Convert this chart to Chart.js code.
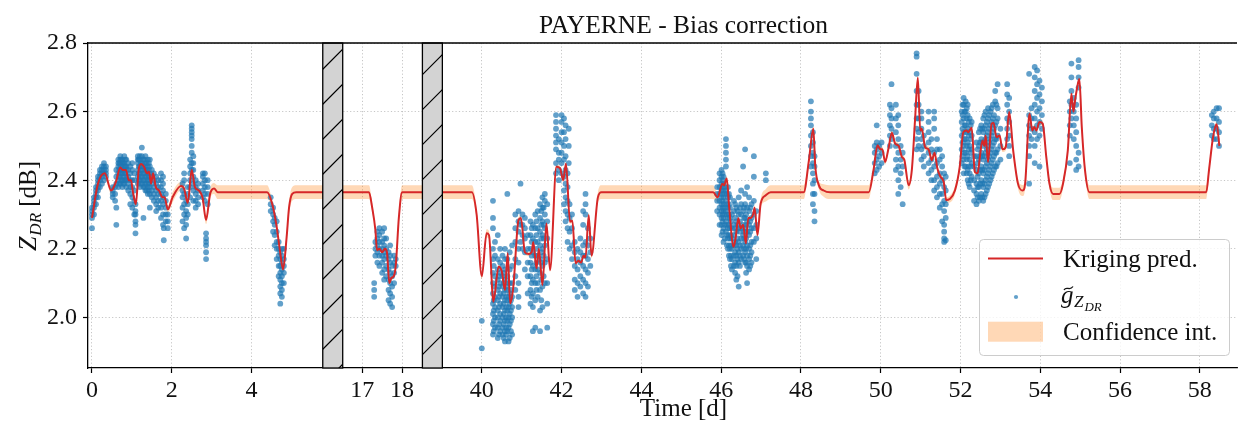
<!DOCTYPE html>
<html>
<head>
<meta charset="utf-8">
<script src="https://cdn.jsdelivr.net/npm/chart.js@4.4.1/dist/chart.umd.min.js"></script>
<style>
  html, body { margin: 0; padding: 0; background: #fff; }
  #wrap { width: 1241px; height: 423px; }
</style>
</head>
<body>
<div id="wrap"><canvas id="zdrChart" width="1241" height="423"></canvas></div>
<script>
// broken time axis: visible day ranges, hatched gap between them
const breaks = [[-0.1, 5.785], [16.511, 18.509], [39.011, 58.931]];
const gapWidth = 0.5;

const tickDays = [0, 2, 4, 17, 18, 40, 42, 44, 46, 48, 50, 52, 54, 56, 58];
const yTicks = [2.0, 2.2, 2.4, 2.6, 2.8];

// kriging prediction: [day, value, half width of confidence interval]
const kriging = [
  [0.00, 2.29, .01], [0.15, 2.39, .008], [0.32, 2.42, .008], [0.48, 2.37, .01],
  [0.60, 2.395, .008], [0.71, 2.437, .006], [0.77, 2.43, .006], [0.85, 2.43, .006],
  [0.92, 2.40, .006], [0.98, 2.40, .006], [1.02, 2.37, .006], [1.10, 2.33, .008],
  [1.17, 2.43, .006], [1.23, 2.447, .006], [1.30, 2.44, .006], [1.38, 2.42, .006],
  [1.43, 2.425, .006], [1.48, 2.39, .006], [1.53, 2.42, .006], [1.60, 2.38, .008],
  [1.68, 2.37, .008], [1.77, 2.35, .008], [1.82, 2.35, .008], [1.90, 2.315, .01],
  [2.02, 2.35, .015], [2.23, 2.383, .012], [2.31, 2.375, .01], [2.40, 2.334, .01],
  [2.50, 2.43, .008], [2.58, 2.38, .008], [2.68, 2.37, .008], [2.77, 2.35, .01],
  [2.86, 2.284, .012], [2.96, 2.36, .015], [3.06, 2.376, .016], [3.15, 2.365, .02],
  [4.39, 2.365, .02], [4.52, 2.33, .01], [4.63, 2.264, .008], [4.71, 2.196, .008],
  [4.79, 2.14, .01], [4.88, 2.235, .015], [4.94, 2.32, .018], [5.02, 2.36, .02],
  [5.12, 2.365, .02], [5.785, 2.365, .02],
  [16.511, 2.365, .02], [17.17, 2.365, .02], [17.25, 2.32, .012], [17.33, 2.255, .008],
  [17.37, 2.196, .006], [17.43, 2.20, .006], [17.50, 2.19, .006], [17.57, 2.20, .006],
  [17.62, 2.19, .006], [17.68, 2.10, .006], [17.73, 2.115, .006], [17.79, 2.12, .006],
  [17.84, 2.15, .008], [17.92, 2.293, .015], [18.00, 2.365, .02], [18.509, 2.365, .02],
  [39.011, 2.365, .02], [39.75, 2.365, .02], [39.87, 2.30, .015], [40.00, 2.12, .008],
  [40.12, 2.245, .012], [40.18, 2.24, .012], [40.29, 2.046, .008], [40.42, 2.148, .006],
  [40.50, 2.135, .006], [40.58, 2.08, .006], [40.65, 2.187, .006], [40.71, 2.041, .006],
  [40.79, 2.09, .006], [40.92, 2.284, .008], [40.98, 2.29, .008], [41.08, 2.19, .006],
  [41.17, 2.185, .006], [41.25, 2.19, .006], [41.29, 2.22, .006], [41.37, 2.143, .006],
  [41.43, 2.20, .006], [41.52, 2.095, .006], [41.62, 2.274, .006], [41.71, 2.138, .006],
  [41.87, 2.439, .006], [41.96, 2.435, .006], [42.04, 2.40, .006], [42.11, 2.448, .006],
  [42.21, 2.279, .006], [42.27, 2.282, .006], [42.35, 2.158, .006], [42.42, 2.165, .006],
  [42.49, 2.16, .006], [42.55, 2.18, .006], [42.60, 2.175, .006], [42.68, 2.298, .006],
  [42.75, 2.18, .008], [42.91, 2.35, .015], [43.00, 2.365, .02], [45.80, 2.365, .02],
  [45.91, 2.35, .012], [46.03, 2.39, .006], [46.07, 2.385, .006], [46.14, 2.405, .006],
  [46.20, 2.322, .006], [46.31, 2.206, .006], [46.36, 2.23, .006], [46.43, 2.289, .006],
  [46.49, 2.26, .006], [46.55, 2.27, .006], [46.62, 2.216, .006], [46.68, 2.29, .006],
  [46.74, 2.29, .006], [46.80, 2.30, .006], [46.84, 2.32, .006], [46.91, 2.24, .008],
  [46.99, 2.332, .012], [47.12, 2.356, .018], [47.24, 2.365, .02], [48.07, 2.365, .02],
  [48.20, 2.458, .012], [48.31, 2.55, .008], [48.36, 2.44, .008], [48.45, 2.385, .012],
  [48.57, 2.37, .018], [48.73, 2.365, .02], [49.70, 2.365, .02], [49.82, 2.43, .012],
  [49.92, 2.502, .008], [49.99, 2.49, .008], [50.04, 2.49, .008], [50.11, 2.453, .008],
  [50.19, 2.49, .008], [50.28, 2.538, .008], [50.36, 2.507, .008], [50.45, 2.50, .008],
  [50.53, 2.468, .008], [50.59, 2.46, .008], [50.70, 2.385, .012], [50.78, 2.43, .01],
  [50.86, 2.575, .008], [50.93, 2.699, .008], [50.99, 2.545, .008], [51.03, 2.55, .008],
  [51.11, 2.497, .008], [51.20, 2.49, .008], [51.28, 2.458, .008], [51.35, 2.48, .008],
  [51.42, 2.434, .008], [51.50, 2.41, .008], [51.58, 2.395, .008], [51.64, 2.342, .008],
  [51.73, 2.345, .01], [51.86, 2.37, .012], [51.98, 2.439, .01], [52.07, 2.54, .008],
  [52.15, 2.545, .008], [52.19, 2.54, .008], [52.28, 2.553, .008], [52.36, 2.424, .008],
  [52.43, 2.42, .008], [52.48, 2.463, .008], [52.55, 2.516, .008], [52.60, 2.50, .008],
  [52.63, 2.53, .008], [52.69, 2.453, .008], [52.78, 2.565, .008], [52.83, 2.567, .008],
  [52.90, 2.526, .008], [52.98, 2.53, .008], [53.05, 2.49, .008], [53.13, 2.495, .01],
  [53.22, 2.599, .008], [53.32, 2.487, .01], [53.44, 2.39, .014], [53.56, 2.37, .016],
  [53.62, 2.39, .014], [53.73, 2.594, .008], [53.80, 2.545, .008], [53.85, 2.555, .008],
  [53.90, 2.545, .008], [53.98, 2.57, .008], [54.06, 2.565, .008], [54.15, 2.468, .01],
  [54.23, 2.39, .014], [54.32, 2.36, .018], [54.48, 2.36, .018], [54.57, 2.39, .014],
  [54.69, 2.487, .01], [54.78, 2.652, .008], [54.83, 2.60, .008], [54.88, 2.64, .008],
  [54.94, 2.68, .008], [54.98, 2.695, .008], [55.04, 2.555, .008], [55.12, 2.43, .014],
  [55.23, 2.365, .02], [58.16, 2.365, .02], [58.23, 2.43, .014], [58.33, 2.525, .008],
  [58.42, 2.563, .008], [58.49, 2.50, .008]
];

// observed ZDR bias estimates: [day, values at that time]
const observations = [
  [0.00, [2.26, 2.29, 2.30, 2.31, 2.32]],
  [0.05, [2.30, 2.32, 2.33, 2.35, 2.34]],
  [0.10, [2.33, 2.35, 2.36, 2.38, 2.37]],
  [0.15, [2.35, 2.37, 2.39, 2.40, 2.41, 2.38]],
  [0.20, [2.38, 2.40, 2.41, 2.42, 2.43]],
  [0.25, [2.39, 2.41, 2.42, 2.44, 2.43]],
  [0.30, [2.40, 2.42, 2.43, 2.44, 2.45]],
  [0.35, [2.41, 2.43, 2.44, 2.42]],
  [0.52, [2.35, 2.37, 2.38, 2.36]],
  [0.58, [2.34, 2.36, 2.38]],
  [0.61, [2.27, 2.32, 2.39, 2.41, 2.43]],
  [0.66, [2.38, 2.40, 2.42, 2.44, 2.45, 2.46]],
  [0.685, [2.39, 2.41, 2.43, 2.45]],
  [0.71, [2.39, 2.41, 2.43, 2.44, 2.45, 2.46, 2.47]],
  [0.735, [2.40, 2.42, 2.44, 2.46]],
  [0.76, [2.38, 2.40, 2.42, 2.43, 2.45, 2.46]],
  [0.785, [2.39, 2.41, 2.43, 2.45]],
  [0.81, [2.39, 2.40, 2.42, 2.44, 2.45, 2.47]],
  [0.835, [2.40, 2.42, 2.44, 2.46]],
  [0.86, [2.38, 2.40, 2.41, 2.43, 2.44, 2.46]],
  [0.91, [2.37, 2.39, 2.41, 2.43, 2.45]],
  [0.96, [2.33, 2.36, 2.38, 2.40, 2.42, 2.44]],
  [1.01, [2.32, 2.35, 2.38, 2.40, 2.43, 2.45]],
  [1.06, [2.30, 2.34, 2.37, 2.40, 2.42]],
  [1.09, [2.245, 2.27, 2.28, 2.30, 2.31, 2.33]],
  [1.15, [2.39, 2.41, 2.43, 2.45, 2.46, 2.47]],
  [1.175, [2.40, 2.42, 2.44, 2.46]],
  [1.20, [2.38, 2.40, 2.42, 2.44, 2.46, 2.47]],
  [1.225, [2.39, 2.41, 2.43, 2.45]],
  [1.25, [2.39, 2.41, 2.43, 2.45, 2.47, 2.495]],
  [1.29, [2.29, 2.38, 2.40, 2.42, 2.44, 2.46]],
  [1.315, [2.38, 2.40, 2.42, 2.44, 2.46]],
  [1.34, [2.37, 2.39, 2.41, 2.43, 2.45, 2.47]],
  [1.37, [2.37, 2.39, 2.41, 2.43, 2.45]],
  [1.40, [2.36, 2.38, 2.40, 2.42, 2.44, 2.46]],
  [1.425, [2.37, 2.39, 2.41, 2.43, 2.45]],
  [1.45, [2.32, 2.36, 2.38, 2.40, 2.42, 2.44, 2.46]],
  [1.50, [2.35, 2.37, 2.39, 2.41, 2.43]],
  [1.55, [2.34, 2.36, 2.38, 2.40, 2.42]],
  [1.61, [2.31, 2.33, 2.35, 2.37, 2.39, 2.41]],
  [1.66, [2.32, 2.34, 2.36, 2.38, 2.40]],
  [1.73, [2.29, 2.32, 2.34, 2.36, 2.38, 2.40, 2.42]],
  [1.78, [2.27, 2.30, 2.33, 2.35, 2.37, 2.39, 2.41]],
  [1.80, [2.225, 2.26]],
  [1.85, [2.28, 2.30, 2.32, 2.34, 2.36]],
  [1.90, [2.26, 2.28, 2.30]],
  [2.27, [2.28, 2.32, 2.35, 2.37, 2.39]],
  [2.31, [2.26, 2.30, 2.33, 2.36, 2.40, 2.42]],
  [2.36, [2.23, 2.27, 2.29, 2.31, 2.34]],
  [2.40, [2.30, 2.33, 2.36, 2.38]],
  [2.46, [2.35, 2.38, 2.40, 2.42, 2.44, 2.46]],
  [2.50, [2.48, 2.50, 2.52, 2.53, 2.54, 2.55, 2.56, 2.43, 2.45]],
  [2.54, [2.34, 2.37, 2.39, 2.41, 2.43, 2.45, 2.47]],
  [2.60, [2.32, 2.34, 2.36, 2.38, 2.40]],
  [2.66, [2.33, 2.35, 2.37, 2.39]],
  [2.78, [2.35, 2.37, 2.39, 2.41, 2.42]],
  [2.83, [2.34, 2.36, 2.38, 2.40, 2.42]],
  [2.86, [2.17, 2.19, 2.21, 2.22, 2.23, 2.245]],
  [2.90, [2.33, 2.36, 2.38, 2.40]],
  [4.48, [2.31, 2.33, 2.35]],
  [4.54, [2.25, 2.28, 2.30, 2.32]],
  [4.58, [2.21, 2.24, 2.27, 2.29]],
  [4.63, [2.17, 2.20, 2.22, 2.25, 2.28]],
  [4.68, [2.12, 2.15, 2.18, 2.20, 2.22]],
  [4.72, [2.04, 2.07, 2.09, 2.11, 2.13, 2.15, 2.17, 2.19]],
  [4.76, [2.06, 2.08, 2.10, 2.12, 2.14, 2.16, 2.18, 2.20]],
  [4.81, [2.10, 2.13, 2.15, 2.17, 2.20]],
  [17.30, [2.06, 2.08, 2.10]],
  [17.33, [2.18, 2.20, 2.22]],
  [17.38, [2.16, 2.19, 2.21, 2.23, 2.25]],
  [17.43, [2.15, 2.18, 2.20, 2.22, 2.24, 2.26]],
  [17.50, [2.13, 2.16, 2.18, 2.20, 2.22, 2.25]],
  [17.55, [2.11, 2.14, 2.17, 2.19, 2.21, 2.23, 2.26]],
  [17.60, [2.12, 2.15, 2.18, 2.20, 2.23]],
  [17.66, [2.05, 2.08, 2.11, 2.14, 2.17, 2.19]],
  [17.70, [2.04, 2.07, 2.10, 2.13, 2.16, 2.18, 2.21]],
  [17.75, [2.03, 2.06, 2.09, 2.12, 2.15]],
  [17.80, [2.10, 2.13, 2.16, 2.18]],
  [17.84, [2.15, 2.17]],
  [40.00, [1.91, 1.99]],
  [40.28, [1.95, 1.98, 2.01, 2.04, 2.07, 2.10, 2.13, 2.17, 2.20, 2.26, 2.29, 2.34]],
  [40.30, [1.96, 1.99, 2.02, 2.05, 2.09, 2.15]],
  [40.33, [1.97, 2.00, 2.03, 2.06, 2.12, 2.18, 2.22]],
  [40.40, [1.94, 1.97, 2.00, 2.02, 2.05, 2.08, 2.11, 2.14, 2.17, 2.24]],
  [40.43, [1.95, 1.98, 2.03, 2.06, 2.09, 2.12]],
  [40.46, [1.96, 1.99, 2.01, 2.04, 2.07, 2.10, 2.13, 2.16, 2.20]],
  [40.52, [1.95, 1.97, 2.00, 2.03, 2.06, 2.09, 2.12, 2.15, 2.18]],
  [40.55, [1.94, 1.98, 2.01, 2.04, 2.07, 2.10, 2.13]],
  [40.58, [1.93, 1.96, 1.99, 2.02, 2.05, 2.08, 2.11, 2.14, 2.17, 2.20]],
  [40.61, [1.95, 1.97, 2.00, 2.03, 2.06, 2.09]],
  [40.64, [1.96, 1.99, 2.02, 2.05, 2.08, 2.12, 2.17, 2.36]],
  [40.67, [1.93, 1.97, 2.00, 2.03, 2.06, 2.10]],
  [40.70, [1.94, 1.98, 2.01, 2.04, 2.07, 2.10, 2.14, 2.19]],
  [40.73, [1.96, 1.99, 2.02, 2.05, 2.08]],
  [40.76, [1.95, 2.00, 2.03, 2.06, 2.10, 2.15, 2.21]],
  [40.84, [2.08, 2.12, 2.17, 2.22, 2.26, 2.30]],
  [40.92, [2.03, 2.06, 2.10, 2.16, 2.20, 2.25, 2.28, 2.31]],
  [40.97, [2.39, 2.27, 2.22]],
  [41.02, [2.20, 2.24, 2.27, 2.30]],
  [41.08, [2.14, 2.19, 2.23, 2.26, 2.29]],
  [41.15, [2.07, 2.12, 2.16, 2.20, 2.24]],
  [41.22, [2.04, 2.08, 2.12, 2.16, 2.20, 2.24, 2.28]],
  [41.25, [2.06, 2.10, 2.14, 2.18, 2.22, 2.26]],
  [41.28, [1.96, 2.03, 2.07, 2.11, 2.15, 2.19, 2.23, 2.27]],
  [41.34, [1.97, 2.05, 2.10, 2.14, 2.18, 2.22, 2.26, 2.30]],
  [41.37, [2.08, 2.12, 2.16, 2.20, 2.24, 2.28]],
  [41.40, [2.06, 2.10, 2.14, 2.18, 2.22, 2.26, 2.31]],
  [41.46, [1.96, 2.02, 2.08, 2.13, 2.17, 2.21, 2.25, 2.29, 2.33]],
  [41.49, [2.05, 2.11, 2.16, 2.19, 2.23, 2.27, 2.31]],
  [41.52, [2.03, 2.09, 2.15, 2.20, 2.24, 2.28, 2.32, 2.35]],
  [41.55, [2.12, 2.18, 2.23, 2.27, 2.32]],
  [41.58, [2.10, 2.16, 2.21, 2.26, 2.30, 2.34, 2.36]],
  [41.64, [1.97, 2.04, 2.10, 2.17, 2.23, 2.28, 2.33]],
  [41.86, [2.49, 2.51, 2.53, 2.55, 2.57, 2.59, 2.45, 2.42]],
  [41.93, [2.40, 2.43, 2.46, 2.48, 2.52]],
  [42.00, [2.42, 2.45, 2.48, 2.51, 2.54, 2.57, 2.59]],
  [42.06, [2.33, 2.37, 2.41, 2.46, 2.50, 2.54, 2.58]],
  [42.10, [2.28, 2.31, 2.35, 2.39, 2.43, 2.47, 2.52, 2.56]],
  [42.15, [2.22, 2.26, 2.30, 2.34, 2.38, 2.42]],
  [42.18, [2.45, 2.50, 2.55]],
  [42.20, [2.20, 2.25, 2.29, 2.33]],
  [42.26, [2.17, 2.21, 2.26, 2.30]],
  [42.33, [2.08, 2.11, 2.15, 2.19, 2.22]],
  [42.40, [2.06, 2.10, 2.14, 2.17, 2.20]],
  [42.47, [2.09, 2.12, 2.16, 2.19, 2.23]],
  [42.54, [2.07, 2.11, 2.15, 2.18, 2.21, 2.27, 2.31]],
  [42.60, [2.06, 2.10, 2.14, 2.18, 2.22, 2.30, 2.33, 2.36]],
  [42.66, [2.09, 2.13, 2.17, 2.21, 2.26]],
  [42.72, [2.15, 2.19, 2.23]],
  [45.90, [2.31, 2.34, 2.36, 2.38]],
  [45.96, [2.27, 2.30, 2.32, 2.34, 2.36, 2.38, 2.40, 2.42]],
  [46.01, [2.24, 2.27, 2.29, 2.31, 2.33, 2.35, 2.37, 2.39, 2.41, 2.43]],
  [46.035, [2.25, 2.28, 2.30, 2.32, 2.34, 2.36, 2.38, 2.40, 2.42]],
  [46.06, [2.22, 2.26, 2.29, 2.31, 2.33, 2.35, 2.37, 2.39, 2.41]],
  [46.09, [2.23, 2.27, 2.30, 2.32, 2.36, 2.38]],
  [46.12, [2.44, 2.46, 2.48, 2.50, 2.52, 2.25, 2.28, 2.31, 2.34, 2.37]],
  [46.145, [2.21, 2.24, 2.27, 2.30, 2.33, 2.36]],
  [46.17, [2.20, 2.23, 2.26, 2.29, 2.32, 2.35, 2.38]],
  [46.195, [2.18, 2.21, 2.24, 2.27, 2.30, 2.33, 2.36]],
  [46.22, [2.17, 2.20, 2.23, 2.26, 2.29, 2.32, 2.35]],
  [46.245, [2.15, 2.18, 2.21, 2.24, 2.28]],
  [46.27, [2.14, 2.17, 2.20, 2.23, 2.26, 2.30]],
  [46.32, [2.15, 2.18, 2.21, 2.24, 2.27, 2.31, 2.34]],
  [46.35, [2.13, 2.16, 2.19, 2.22, 2.26, 2.29, 2.33]],
  [46.38, [2.11, 2.15, 2.18, 2.21, 2.25, 2.28, 2.32]],
  [46.41, [2.12, 2.17, 2.20, 2.23, 2.27, 2.31]],
  [46.44, [2.09, 2.16, 2.19, 2.22, 2.26, 2.30, 2.35]],
  [46.47, [2.15, 2.18, 2.21, 2.25, 2.28, 2.32]],
  [46.50, [2.17, 2.20, 2.23, 2.26, 2.30, 2.33, 2.37]],
  [46.55, [2.18, 2.21, 2.24, 2.27, 2.31, 2.44]],
  [46.575, [2.17, 2.20, 2.23, 2.25, 2.29, 2.32]],
  [46.60, [2.49, 2.16, 2.19, 2.22, 2.26, 2.29, 2.33, 2.36]],
  [46.625, [2.13, 2.16, 2.20, 2.23, 2.27, 2.30]],
  [46.65, [2.10, 2.15, 2.18, 2.21, 2.25, 2.28, 2.32, 2.38]],
  [46.70, [2.14, 2.17, 2.20, 2.24, 2.27, 2.31, 2.35]],
  [46.73, [2.15, 2.18, 2.21, 2.25, 2.28, 2.32]],
  [46.76, [2.16, 2.19, 2.22, 2.26, 2.29, 2.33]],
  [46.82, [2.22, 2.26, 2.30, 2.34, 2.41, 2.47]],
  [46.88, [2.17, 2.23, 2.27, 2.31]],
  [47.12, [2.40, 2.42]],
  [48.25, [2.44, 2.47, 2.50, 2.53, 2.56, 2.58, 2.60, 2.63]],
  [48.30, [2.33, 2.36, 2.39, 2.42, 2.45, 2.48, 2.51, 2.54]],
  [48.34, [2.28, 2.31, 2.36, 2.40, 2.44, 2.47]],
  [49.85, [2.42, 2.45, 2.48, 2.50]],
  [49.90, [2.43, 2.46, 2.49, 2.51, 2.56]],
  [49.96, [2.44, 2.47, 2.50]],
  [50.02, [2.45, 2.48, 2.51]],
  [50.23, [2.50, 2.53, 2.56, 2.59, 2.62]],
  [50.27, [2.68, 2.52, 2.55, 2.58, 2.61]],
  [50.38, [2.43, 2.46, 2.50, 2.54, 2.58, 2.62]],
  [50.44, [2.36, 2.40, 2.44, 2.48, 2.52, 2.56, 2.59]],
  [50.50, [2.38, 2.42, 2.46, 2.50]],
  [50.55, [2.33, 2.44, 2.48]],
  [50.90, [2.76, 2.77, 2.71, 2.66, 2.62, 2.58, 2.55, 2.52, 2.49]],
  [50.95, [2.50, 2.54, 2.58, 2.62, 2.66]],
  [51.02, [2.46, 2.49, 2.52, 2.55, 2.58, 2.60]],
  [51.08, [2.44, 2.47, 2.50, 2.53]],
  [51.20, [2.42, 2.45, 2.48, 2.51, 2.54, 2.57, 2.60]],
  [51.27, [2.40, 2.43, 2.46, 2.49, 2.52]],
  [51.34, [2.37, 2.40, 2.44, 2.48, 2.55, 2.58, 2.60]],
  [51.41, [2.35, 2.38, 2.41, 2.45, 2.49, 2.52]],
  [51.48, [2.32, 2.36, 2.39, 2.42, 2.46, 2.49]],
  [51.54, [2.28, 2.33, 2.36, 2.40, 2.44, 2.47]],
  [51.59, [2.22, 2.23, 2.25, 2.27, 2.31, 2.34, 2.38, 2.42]],
  [51.63, [2.225, 2.29, 2.33, 2.37, 2.41]],
  [52.03, [2.45, 2.49, 2.53, 2.57, 2.60]],
  [52.05, [2.47, 2.51, 2.55, 2.59, 2.62]],
  [52.08, [2.42, 2.46, 2.50, 2.54, 2.58, 2.62, 2.64]],
  [52.10, [2.44, 2.48, 2.52, 2.56, 2.60]],
  [52.13, [2.44, 2.48, 2.52, 2.56, 2.60, 2.63]],
  [52.155, [2.42, 2.46, 2.50, 2.54, 2.58, 2.61]],
  [52.18, [2.40, 2.43, 2.47, 2.51, 2.55, 2.59, 2.62]],
  [52.205, [2.39, 2.44, 2.49, 2.53, 2.57]],
  [52.23, [2.38, 2.42, 2.46, 2.50, 2.54, 2.58]],
  [52.255, [2.40, 2.44, 2.48, 2.52, 2.56]],
  [52.28, [2.41, 2.45, 2.49, 2.53, 2.57]],
  [52.34, [2.34, 2.37, 2.40, 2.44, 2.47]],
  [52.40, [2.33, 2.36, 2.39, 2.43, 2.47, 2.51]],
  [52.43, [2.35, 2.38, 2.41, 2.45, 2.49]],
  [52.46, [2.34, 2.38, 2.42, 2.46, 2.50, 2.54]],
  [52.49, [2.35, 2.39, 2.43, 2.47, 2.51, 2.55]],
  [52.52, [2.36, 2.40, 2.44, 2.48, 2.52, 2.56]],
  [52.545, [2.35, 2.39, 2.43, 2.47, 2.51, 2.55]],
  [52.57, [2.34, 2.38, 2.42, 2.46, 2.50, 2.54, 2.58]],
  [52.60, [2.35, 2.39, 2.43, 2.47, 2.51, 2.55, 2.59]],
  [52.63, [2.36, 2.40, 2.44, 2.48, 2.52, 2.56, 2.60]],
  [52.66, [2.37, 2.41, 2.45, 2.49, 2.53, 2.57]],
  [52.69, [2.38, 2.42, 2.46, 2.50, 2.54, 2.58, 2.61]],
  [52.72, [2.39, 2.43, 2.47, 2.51, 2.55, 2.59]],
  [52.75, [2.40, 2.44, 2.48, 2.52, 2.56, 2.60]],
  [52.78, [2.41, 2.45, 2.49, 2.53, 2.57, 2.61]],
  [52.81, [2.42, 2.46, 2.50, 2.54, 2.58, 2.62]],
  [52.84, [2.43, 2.47, 2.51, 2.55, 2.59]],
  [52.87, [2.44, 2.48, 2.52, 2.56, 2.63, 2.66]],
  [52.90, [2.44, 2.48, 2.52, 2.57, 2.62]],
  [52.93, [2.45, 2.49, 2.53, 2.58, 2.61, 2.68]],
  [53.00, [2.46, 2.50, 2.55]],
  [53.17, [2.52, 2.55, 2.58, 2.62, 2.65, 2.68]],
  [53.22, [2.47, 2.50, 2.53, 2.57, 2.60, 2.64]],
  [53.72, [2.39, 2.47, 2.50, 2.53, 2.56, 2.59, 2.71]],
  [53.78, [2.52, 2.55, 2.58, 2.61]],
  [53.86, [2.45, 2.50, 2.54, 2.58, 2.62, 2.66, 2.70, 2.73]],
  [53.92, [2.52, 2.56, 2.60, 2.64, 2.68, 2.72]],
  [53.98, [2.44, 2.53, 2.57, 2.61, 2.65, 2.69]],
  [54.04, [2.55, 2.59, 2.63, 2.67]],
  [54.74, [2.45, 2.53, 2.56, 2.60, 2.63]],
  [54.78, [2.58, 2.62, 2.66, 2.70, 2.74]],
  [54.84, [2.52, 2.56, 2.60, 2.64]],
  [54.90, [2.43, 2.46, 2.50, 2.54, 2.58, 2.62]],
  [54.96, [2.67, 2.70, 2.73, 2.75, 2.44, 2.48]],
  [58.30, [2.53, 2.56, 2.59]],
  [58.35, [2.52, 2.55, 2.58, 2.60]],
  [58.42, [2.52, 2.55, 2.58, 2.61]],
  [58.48, [2.50, 2.54, 2.57, 2.61]]
];

const FONT = '"Liberation Serif", "Times New Roman", serif';

// day -> position on the compressed axis
function toU(t) {
  let u = breaks[0][0];
  for (let i = 0; i < breaks.length; i++) {
    const [a, b] = breaks[i];
    if (t <= b || i === breaks.length - 1) return u + (t - a);
    u += (b - a) + gapWidth;
  }
}
const uMax = toU(breaks[breaks.length - 1][1]);

const krigLine = kriging.map(([t, v]) => ({ x: toU(t), y: v }));
const ciUpper = kriging.map(([t, v, w]) => ({ x: toU(t), y: v + w }));
const ciLower = kriging.map(([t, v, w]) => ({ x: toU(t), y: v - w }));
const obsPoints = observations.flatMap(([t, vals]) =>
  vals.map((v) => ({ x: toU(t), y: v }))
);

const breakBoxes = {
  id: "breakBoxes",
  afterDatasetsDraw(chart) {
    const { ctx, chartArea, scales } = chart;
    const { top, bottom } = chartArea;
    breaks.slice(0, -1).forEach(([, b]) => {
      const x0 = scales.x.getPixelForValue(toU(b));
      const x1 = scales.x.getPixelForValue(toU(b) + gapWidth);
      ctx.save();
      ctx.fillStyle = "#d3d3d3";
      ctx.fillRect(x0, top, x1 - x0, bottom - top);
      ctx.beginPath();
      ctx.rect(x0, top, x1 - x0, bottom - top);
      ctx.clip();
      ctx.strokeStyle = "#000";
      ctx.lineWidth = 1.2;
      ctx.beginPath();
      let c = 392 + 35 * Math.ceil((x0 + top - 392) / 35);
      for (; c < x1 + bottom + 35; c += 35) {
        ctx.moveTo(x0, c - x0);
        ctx.lineTo(x1, c - x1);
      }
      ctx.stroke();
      ctx.restore();
      ctx.save();
      ctx.strokeStyle = "#000";
      ctx.lineWidth = 1.3;
      ctx.strokeRect(x0, top, x1 - x0, bottom - top);
      ctx.restore();
    });
  },
};

function drawRich(ctx, parts, x, y) {
  let cx = x;
  parts.forEach((p) => {
    ctx.font = p.font;
    ctx.fillText(p.text, cx, y + (p.dy || 0));
    cx += ctx.measureText(p.text).width + (p.gap || 0);
  });
  return cx;
}

function richWidth(ctx, parts) {
  return parts.reduce((w, p) => {
    ctx.font = p.font;
    return w + ctx.measureText(p.text).width + (p.gap || 0);
  }, 0);
}

const decorations = {
  id: "decorations",
  afterDraw(chart) {
    const { ctx, chartArea } = chart;
    ctx.save();
    // top spine
    ctx.strokeStyle = "#000";
    ctx.lineWidth = 1.3;
    ctx.beginPath();
    ctx.moveTo(chartArea.left, chartArea.top);
    ctx.lineTo(chartArea.right, chartArea.top);
    ctx.stroke();

    ctx.fillStyle = "#111";
    ctx.textBaseline = "alphabetic";
    ctx.textAlign = "center";
    ctx.font = "25.5px " + FONT;
    ctx.fillText("PAYERNE - Bias correction", 683.5, 33);
    ctx.font = "25px " + FONT;
    ctx.fillText("Time [d]", 683.5, 416);

    // y label Z_DR [dB]
    ctx.textAlign = "left";
    const yParts = [
      { text: "Z", font: "italic 26px " + FONT, gap: 1 },
      { text: "DR", font: "italic 17px " + FONT, dy: 5 },
      { text: " [dB]", font: "25px " + FONT },
    ];
    ctx.save();
    ctx.translate(36, 206);
    ctx.rotate(-Math.PI / 2);
    drawRich(ctx, yParts, -richWidth(ctx, yParts) / 2, 0);
    ctx.restore();

    // legend
    ctx.beginPath();
    ctx.roundRect(979.5, 239.5, 250, 116, 4);
    ctx.fillStyle = "rgba(255,255,255,0.8)";
    ctx.fill();
    ctx.strokeStyle = "#cccccc";
    ctx.lineWidth = 1;
    ctx.stroke();

    ctx.strokeStyle = "#d62728";
    ctx.lineWidth = 2;
    ctx.beginPath();
    ctx.moveTo(988, 258.5);
    ctx.lineTo(1043, 258.5);
    ctx.stroke();

    ctx.fillStyle = "rgba(31,119,180,0.7)";
    ctx.beginPath();
    ctx.arc(1016, 297, 2.1, 0, Math.PI * 2);
    ctx.fill();

    ctx.fillStyle = "rgba(255,127,14,0.3)";
    ctx.fillRect(988, 321.7, 55, 20);

    ctx.fillStyle = "#111";
    ctx.font = "25px " + FONT;
    ctx.fillText("Kriging pred.", 1063, 267);
    ctx.fillText("Confidence int.", 1063, 340);

    // g-tilde with subscript Z_DR
    const gx = 1061;
    ctx.font = "italic 25px " + FONT;
    ctx.fillText("g", gx, 303);
    ctx.strokeStyle = "#111";
    ctx.lineWidth = 1.3;
    ctx.beginPath();
    ctx.moveTo(gx + 3, 290);
    ctx.bezierCurveTo(gx + 5.5, 285.5, gx + 8.5, 291.5, gx + 12, 286.5);
    ctx.stroke();
    drawRich(ctx, [
      { text: "Z", font: "italic 17px " + FONT, gap: 1 },
      { text: "DR", font: "italic 13px " + FONT, dy: 4.5 },
    ], gx + 13, 306.5);
    ctx.restore();
  },
};

const chart = new Chart(document.getElementById("zdrChart").getContext("2d"), {
  type: "scatter",
  data: {
    datasets: [
      {
        label: "Kriging pred.",
        type: "line",
        data: krigLine,
        borderColor: "#d62728",
        borderWidth: 2,
        pointRadius: 0,
        cubicInterpolationMode: "monotone",
        fill: false,
        order: 0,
      },
      {
        label: "obs",
        data: obsPoints,
        backgroundColor: "rgba(31,119,180,0.7)",
        borderWidth: 0,
        pointRadius: 2.9,
        order: 1,
      },
      {
        label: "Confidence int.",
        type: "line",
        data: ciUpper,
        borderWidth: 0,
        borderColor: "rgba(0,0,0,0)",
        pointRadius: 0,
        cubicInterpolationMode: "monotone",
        backgroundColor: "rgba(255,127,14,0.3)",
        fill: "+1",
        order: 2,
      },
      {
        label: "ci-low",
        type: "line",
        data: ciLower,
        borderWidth: 0,
        borderColor: "rgba(0,0,0,0)",
        pointRadius: 0,
        cubicInterpolationMode: "monotone",
        fill: false,
        order: 3,
      },
    ],
  },
  options: {
    responsive: false,
    animation: false,
    layout: { padding: { top: 43, left: 0, right: 0, bottom: 0 } },
    plugins: {
      legend: { display: false },
      tooltip: { enabled: false },
      title: { display: false },
    },
    scales: {
      x: {
        type: "linear",
        min: breaks[0][0],
        max: uMax,
        afterBuildTicks: (scale) => {
          scale.ticks = tickDays.map((d) => ({ value: toU(d) }));
        },
        afterFit: (scale) => {
          scale.height = 55;
        },
        ticks: {
          autoSkip: false,
          maxRotation: 0,
          padding: 3,
          color: "#111",
          font: { family: FONT, size: 24 },
          callback: (value) => {
            const d = tickDays.find((k) => Math.abs(toU(k) - value) < 1e-6);
            return d === undefined ? "" : String(d);
          },
        },
        grid: {
          color: "#b8b8b8",
          lineWidth: 0.8,
          tickColor: "#000",
          tickLength: 5,
          tickWidth: 1.2,
        },
        border: { display: true, color: "#000", width: 1.3, dash: [1.2, 2.2] },
      },
      y: {
        type: "linear",
        min: 1.8525,
        max: 2.8,
        afterBuildTicks: (scale) => {
          scale.ticks = yTicks.map((v) => ({ value: v }));
        },
        afterFit: (scale) => {
          scale.width = 88;
        },
        ticks: {
          padding: 6,
          color: "#111",
          font: { family: FONT, size: 24 },
          callback: (value) => value.toFixed(1),
        },
        grid: {
          color: "#b8b8b8",
          lineWidth: 0.8,
          tickColor: "#000",
          tickLength: 5,
          tickWidth: 1.2,
        },
        border: { display: true, color: "#000", width: 1.3, dash: [1.2, 2.2] },
      },
    },
  },
  plugins: [breakBoxes, decorations],
});
</script>
</body>
</html>
